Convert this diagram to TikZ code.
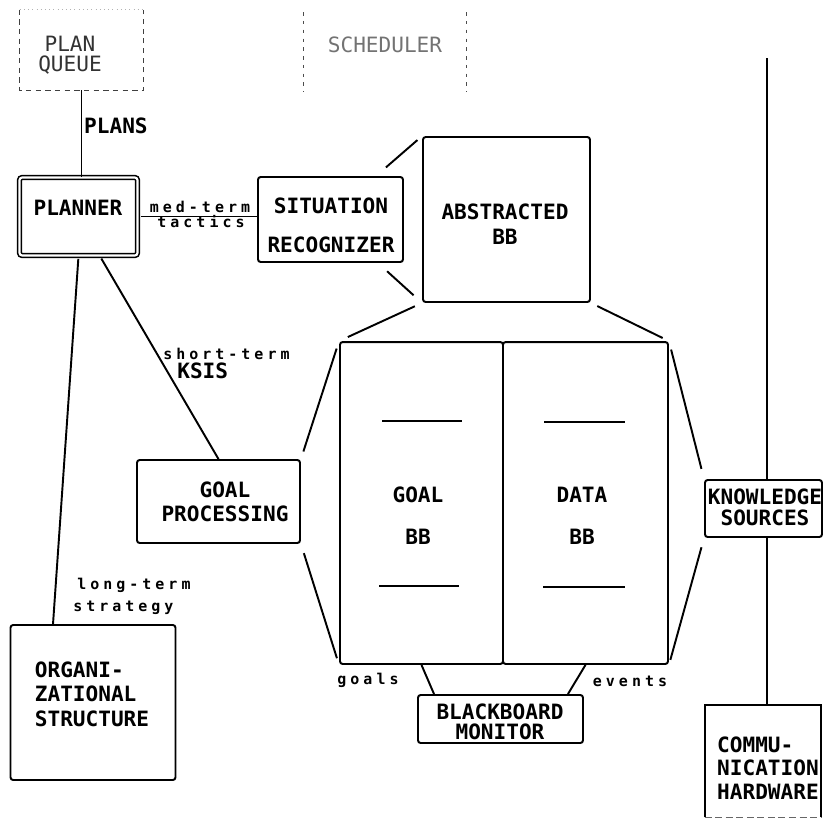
\documentclass[tikz,border=0pt]{standalone}
\usepackage{fontspec}
\setmonofont{DejaVu Sans Mono}
\newfontfamily\lowfont{DejaVu Sans Mono}[LetterSpace=27]
\usepackage{tikz}

\begin{document}
\begin{tikzpicture}[x=0.02cm,y=-0.02cm,
  box/.style={draw,line width=1.1pt,rounded corners=1.5pt,inner sep=0pt},
  captxt/.style={inner sep=0pt,align=center,font=\ttfamily\bfseries\fontsize{12}{14}\selectfont},
  lowtxt/.style={inner sep=0pt,font=\lowfont\bfseries\fontsize{8.5}{10}\selectfont},
  wire/.style={line width=1.1pt}]
  \useasboundingbox (0,0) rectangle (823,823);
  \node[minimum width=2.46cm,minimum height=1.6cm] (planq) at (81.5,50) {};
  \draw[black!75,line width=0.9pt,dash pattern=on 3pt off 2.5pt] (planq.north west) -- (planq.south west) -- (planq.south east) -- (planq.north east);
  \draw[black!30,dotted] (planq.north west) -- (planq.north east);
  \node[captxt,font=\ttfamily\fontsize{12}{11.5}\selectfont,black!80] (planqT) at (70,55) {PLAN\\QUEUE};
  \node[minimum width=3.24cm,minimum height=1.58cm] (sched) at (385,52) {};
  \draw[black!70,line width=0.9pt,dash pattern=on 2pt off 3pt] (sched.north west) -- (sched.south west);
  \draw[black!70,line width=0.9pt,dash pattern=on 2pt off 3pt] (sched.north east) -- (sched.south east);
  \node[captxt,font=\ttfamily\fontsize{12}{14}\selectfont,black!55] (schedT) at (385,45) {SCHEDULER};
  \node[box,double,line width=0.9pt,double distance=1.2pt,minimum width=2.36cm,minimum height=1.56cm] (planner) at (78.5,216.5) {};
  \node[captxt] (plannerT) at (78,208) {PLANNER};
  \node[box,minimum width=2.9cm,minimum height=1.7cm] (sit) at (330.5,219.5) {};
  \node[captxt] (sitT) at (331,225) {SITUATION\\[8pt]RECOGNIZER};
  \node[box,minimum width=3.34cm,minimum height=3.3cm] (abs) at (506.5,219.5) {};
  \node[captxt] (absT) at (505,224) {ABSTRACTED\\BB};
  \node[box,minimum width=3.26cm,minimum height=6.44cm] (goal) at (421.5,503) {};
  \node[box,minimum width=3.3cm,minimum height=6.44cm] (data) at (585.5,503) {};
  \draw[wire] (382,421) -- (462,421);
  \draw[wire] (379,586) -- (459,586);
  \draw[wire] (544,422) -- (625,422);
  \draw[wire] (543,587) -- (625,587);
  \node[captxt] (goalT) at (418,516) {GOAL\\[10pt]BB};
  \node[captxt] (dataT) at (582,516) {DATA\\[10pt]BB};
  \node[box,minimum width=3.26cm,minimum height=1.66cm] (goalproc) at (218.5,501.5) {};
  \node[captxt] (goalprocT) at (225,502) {GOAL\\PROCESSING};
  \node[box,minimum width=3.3cm,minimum height=3.1cm] (org) at (93,702.5) {};
  \node[captxt,align=left] (orgT) at (92,694) {ORGANI-\\ZATIONAL\\STRUCTURE};
  \node[box,minimum width=3.3cm,minimum height=0.96cm] (bbmon) at (500.5,719) {};
  \node[captxt,font=\ttfamily\bfseries\fontsize{12}{11.5}\selectfont] (bbmonT) at (500,722) {BLACKBOARD\\MONITOR};
  \node[box,minimum width=2.34cm,minimum height=1.14cm] (know) at (763.5,508.5) {};
  \node[captxt,font=\ttfamily\bfseries\fontsize{12}{12}\selectfont] (knowT) at (765,507) {KNOWLEDGE\\SOURCES};
  \node[minimum width=2.32cm,minimum height=2.24cm] (comm) at (763,761) {};
  \draw[wire] (comm.south west) -- (comm.north west) -- (comm.north east) -- (comm.south east);
  \draw[black!60,line width=0.8pt,dash pattern=on 4pt off 2pt] (comm.south west) -- (comm.south east);
  \node[captxt,align=left,font=\ttfamily\bfseries\fontsize{12}{13.5}\selectfont] (commT) at (768,768) {COMMU-\\NICATION\\HARDWARE};
  \draw[wire] (planq.south) -- (planq.south |- planner.north) node[captxt,pos=0.41,anchor=west,xshift=1pt] (plansT) {PLANS};
  \draw[wire,shorten <=1.5pt] (planner.east) -- (planner.east -| sit.west);
  \node[lowtxt] (medT) at (200,207) {med-term};
  \node[lowtxt] (tactT) at (201,222) {tactics};
  \draw[wire,shorten <=1.5pt] ([xshift=0.43cm]planner.south) -- (goalproc.north);
  \node[lowtxt,anchor=west] (shortT) at (163,354) {short-term};
  \node[captxt,anchor=west] (ksisT) at (177,371) {KSIS};
  \draw[wire,shorten <=1.5pt] (planner.south) -- ([xshift=-0.8cm]org.north);
  \node[lowtxt,anchor=west] (longT) at (77,585) {long-term};
  \node[lowtxt,anchor=west] (stratT) at (73,608) {strategy};
  \draw[wire,shorten <=7.5pt,shorten >=3.5pt] ([xshift=-0.56cm]sit.north east) -- (abs.north west);
  \draw[wire,shorten <=7pt,shorten >=6.5pt] ([xshift=-0.52cm]sit.south east) -- (abs.south west);
  \draw[wire,shorten <=5.5pt,shorten >=4.5pt] (goal.north west) -- (abs.south west);
  \draw[wire,shorten <=4pt,shorten >=4pt] (abs.south east) -- (data.north east);
  \draw[wire,shorten <=4.5pt,shorten >=4.5pt] (goal.north west) -- (goalproc.north east);
  \draw[wire,shorten <=5.5pt,shorten >=4pt] (goalproc.south east) -- (goal.south west);
  \draw[wire,shorten <=5pt,shorten >=6pt] (data.north east) -- (know.north west);
  \draw[wire,shorten <=5.5pt,shorten >=3pt] (know.south west) -- (data.south east);
  \draw[wire] (goal.south) -- ([xshift=0.34cm]bbmon.north west);
  \draw[wire] (data.south) -- ([xshift=-0.32cm]bbmon.north east);
  \node[lowtxt] (goalsT) at (368,680) {goals};
  \node[lowtxt] (eventsT) at (630,681) {events};
  \coordinate (kstop) at (767,58);
  \draw[wire] (kstop) -- (kstop |- know.north);
  \draw[wire] (know.south -| kstop) -- (kstop |- comm.north);
\end{tikzpicture}
\end{document}
